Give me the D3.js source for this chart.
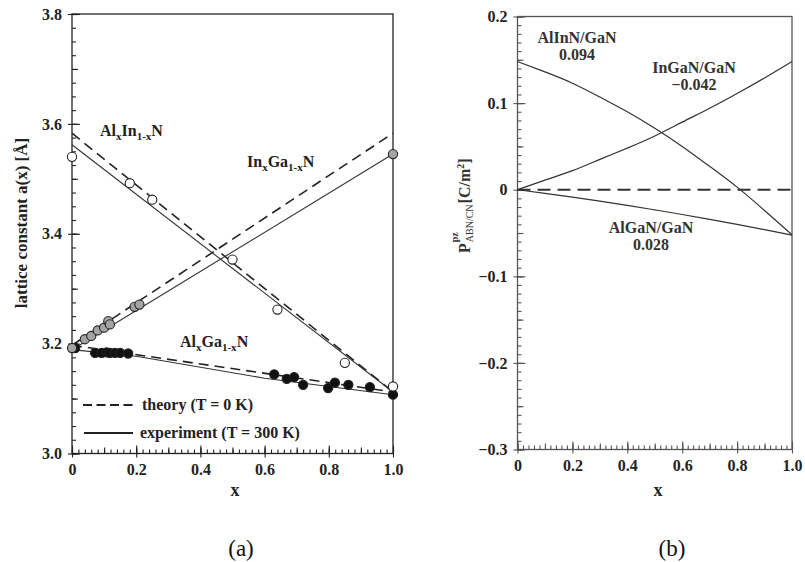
<!DOCTYPE html>
<html>
<head>
<meta charset="utf-8">
<script src="https://cdn.jsdelivr.net/npm/d3@7"></script>
<style>
  body { margin: 0; background: #fff; }
  svg text { font-family: "Liberation Serif", "Times New Roman", serif; }
  .tick text { font-weight: bold; font-size: 16px; fill: #222; }
</style>
</head>
<body>
<div id="chart"></div>
<script>
// ---- panel (a): lattice constants ----
var leftXTicks = [0, 0.2, 0.4, 0.6, 0.8, 1.0];
var leftXLabels = ["0", "0.2", "0.4", "0.6", "0.8", "1.0"];
var leftYTicks = [3.0, 3.2, 3.4, 3.6, 3.8];

// measured points (x, a)
var alInNX = [0, 0.18, 0.25, 0.50, 0.64, 0.85, 1.0];
var alInNA = [3.540, 3.492, 3.462, 3.353, 3.262, 3.165, 3.122];
var inGaNX = [0, 0.04, 0.06, 0.08, 0.10, 0.113, 0.118, 0.195, 0.21, 1.0];
var inGaNA = [3.192, 3.208, 3.214, 3.224, 3.229, 3.241, 3.235, 3.267, 3.271, 3.545];
var alGaNX = [0.01, 0.072, 0.092, 0.108, 0.118, 0.134, 0.150, 0.175, 0.63, 0.669, 0.692, 0.72, 0.798, 0.819, 0.861, 0.928, 1.0];
var alGaNA = [3.192, 3.183, 3.183, 3.184, 3.183, 3.183, 3.183, 3.182, 3.144, 3.136, 3.139, 3.125, 3.119, 3.129, 3.125, 3.121, 3.107];

// theory lines (dashed) and experiment fits (solid)
var theoryAlInN = [[0, 3.583], [1, 3.112]];
var theoryInGaN = [[0, 3.197], [1, 3.583]];
var theoryAlGaN = [[0, 3.197], [1, 3.112]];
var exptAlInN = [[0, 3.562], [1, 3.112]];
var exptInGaN = [[0, 3.189], [1, 3.545]];
var exptAlGaN = [[0, 3.189], [0.2, 3.177], [0.6, 3.137], [1, 3.107]];

// ---- panel (b): piezoelectric polarization ----
var rightXTicks = [0, 0.2, 0.4, 0.6, 0.8, 1.0];
var rightXLabels = ["0", "0.2", "0.4", "0.6", "0.8", "1.0"];
var rightYTicks = [-0.3, -0.2, -0.1, 0, 0.1, 0.2];
var rightYLabels = ["\u22120.3", "\u22120.2", "\u22120.1", "0", "0.1", "0.2"];

var pX = [0, 0.1, 0.2, 0.3, 0.4, 0.5, 0.6, 0.7, 0.8, 0.9, 1.0];
var pAlInN = [0.148, 0.136, 0.123, 0.107, 0.090, 0.071, 0.050, 0.027, 0.003, -0.024, -0.052];
var pInGaN = [0, 0.011, 0.022, 0.035, 0.048, 0.062, 0.078, 0.094, 0.111, 0.129, 0.148];
var pAlGaN = [0, -0.0042, -0.0086, -0.0132, -0.0181, -0.0233, -0.0286, -0.0342, -0.0401, -0.0462, -0.0525];
var pZero = [[0, 0], [1, 0]];

var width = 805, height = 562;
var svg = d3.select("#chart").append("svg")
  .attr("width", width).attr("height", height);

// scales
var xA = d3.scaleLinear().domain([0, 1]).range([72, 393]);
var yA = d3.scaleLinear().domain([3.0, 3.8]).range([453.5, 14]);
var xB = d3.scaleLinear().domain([0, 1]).range([517.5, 792]);
var yB = d3.scaleLinear().domain([-0.3, 0.2]).range([449.5, 16.5]);

function rng(a, b, s) {
  var out = [];
  for (var v = a; v <= b + 1e-9; v += s) out.push(+v.toFixed(4));
  return out;
}

// draw one panel's frame and axes
function drawAxes(x, y, xt, xl, yt, yl, xMinor, xMid, yMinor, yMid, col) {
  var x0 = x.range()[0], x1 = x.range()[1];
  var y0 = y.range()[0], y1 = y.range()[1];
  var g = svg.append("g");

  g.append("rect")
    .attr("x", x0).attr("y", y1)
    .attr("width", x1 - x0).attr("height", y0 - y1)
    .attr("fill", "none").attr("stroke", col).attr("stroke-width", 1.3);

  function ax(axis, tr, vals, size, labels) {
    var a = axis.tickValues(vals).tickSizeOuter(0).tickSizeInner(size);
    if (labels) a.tickFormat(function(d, i) { return labels[i]; }).tickPadding(6);
    else a.tickFormat("");
    var s = g.append("g").attr("transform", tr).call(a);
    s.select(".domain").remove();
    s.selectAll(".tick line").attr("stroke", col).attr("stroke-width", 1.1);
    return s;
  }
  // minor and medium ticks, inward
  ax(d3.axisBottom(x), "translate(0," + y0 + ")", rng(0, 1, xMinor), -4);
  ax(d3.axisBottom(x), "translate(0," + y0 + ")", rng(0, 1, xMid), -6);
  ax(d3.axisLeft(y), "translate(" + x0 + ",0)", rng(y.domain()[0], y.domain()[1], yMinor), -4);
  ax(d3.axisLeft(y), "translate(" + x0 + ",0)", rng(y.domain()[0], y.domain()[1], yMid), -6);
  // major ticks cross the axis
  ax(d3.axisBottom(x), "translate(0," + y0 + ")", xt, -8);
  ax(d3.axisLeft(y), "translate(" + x0 + ",0)", yt, -8);
  ax(d3.axisBottom(x), "translate(0," + y0 + ")", xt, 4, xl);
  ax(d3.axisLeft(y), "translate(" + x0 + ",0)", yt, 4, yl);
}

drawAxes(xA, yA, leftXTicks, leftXLabels, leftYTicks,
  leftYTicks.map(function(d) { return d.toFixed(1); }), 0.02, 0.1, 0.025, 0.1, "#222");
drawAxes(xB, yB, rightXTicks, rightXLabels, rightYTicks, rightYLabels,
  0.02, 0.1, 0.01, 0.05, "#555");

// ---- panel (a) lines ----
var lineA = d3.line().x(function(d) { return xA(d[0]); }).y(function(d) { return yA(d[1]); });
var gA = svg.append("g");
[theoryAlInN, theoryInGaN, theoryAlGaN].forEach(function(l) {
  gA.append("path").attr("d", lineA(l)).attr("fill", "none")
    .attr("stroke", "#222").attr("stroke-width", 1.6).attr("stroke-dasharray", "10,6");
});
[exptAlInN, exptInGaN, exptAlGaN].forEach(function(l) {
  gA.append("path").attr("d", lineA(l)).attr("fill", "none")
    .attr("stroke", "#333").attr("stroke-width", 1.1);
});

function dots(xs, as, fill) {
  gA.selectAll(null).data(xs).enter().append("circle")
    .attr("cx", function(d) { return xA(d); })
    .attr("cy", function(d, i) { return yA(as[i]); })
    .attr("r", 4.6)
    .attr("fill", fill).attr("stroke", "#222").attr("stroke-width", 1.1);
}
dots(alGaNX, alGaNA, "#111");
dots(inGaNX, inGaNA, "#a4a4a4");
dots(alInNX, alInNA, "#fff");

// compound labels with subscripts
function compound(x, y, parts) {
  var t = svg.append("text").attr("x", x).attr("y", y)
    .attr("font-weight", "bold").attr("font-size", 16).attr("fill", "#222");
  var shift = 0;
  parts.forEach(function(p) {
    var s = t.append("tspan");
    if (p.sub) {
      s.attr("dy", 4 - shift).attr("font-size", 11).text(p.sub);
      shift = 4;
    } else {
      s.attr("dy", -shift).text(p.t);
      shift = 0;
    }
  });
}
compound(100, 136, [{t: "Al"}, {sub: "x"}, {t: "In"}, {sub: "1-x"}, {t: "N"}]);
compound(247, 167, [{t: "In"}, {sub: "x"}, {t: "Ga"}, {sub: "1-x"}, {t: "N"}]);
compound(180, 347, [{t: "Al"}, {sub: "x"}, {t: "Ga"}, {sub: "1-x"}, {t: "N"}]);

// legend
gA.append("line").attr("x1", 83).attr("x2", 133).attr("y1", 405).attr("y2", 405)
  .attr("stroke", "#222").attr("stroke-width", 1.8).attr("stroke-dasharray", "9,4.5");
gA.append("line").attr("x1", 84).attr("x2", 133).attr("y1", 433).attr("y2", 433)
  .attr("stroke", "#222").attr("stroke-width", 2);
gA.append("text").attr("x", 142).attr("y", 410).attr("font-weight", "bold")
  .attr("font-size", 16).attr("fill", "#222").text("theory (T = 0 K)");
gA.append("text").attr("x", 140).attr("y", 438).attr("font-weight", "bold")
  .attr("font-size", 16).attr("fill", "#222").text("experiment (T = 300 K)");

// axis titles (a)
svg.append("text").attr("transform", "translate(27,223) rotate(-90)")
  .attr("text-anchor", "middle").attr("font-weight", "bold").attr("font-size", 17)
  .attr("fill", "#222").text("lattice constant  a(x) [\u00c5]");
svg.append("text").attr("x", 235).attr("y", 496).attr("text-anchor", "middle")
  .attr("font-weight", "bold").attr("font-size", 18).attr("fill", "#222").text("x");

// ---- panel (b) curves ----
var lineB = d3.line().x(function(d) { return xB(d[0]); }).y(function(d) { return yB(d[1]); })
  .curve(d3.curveNatural);
var gB = svg.append("g");
gB.append("path").attr("d", d3.line().x(function(d) { return xB(d[0]); })
    .y(function(d) { return yB(d[1]); })(pZero))
  .attr("fill", "none").attr("stroke", "#333").attr("stroke-width", 2)
  .attr("stroke-dasharray", "13,7");
[pAlInN, pInGaN, pAlGaN].forEach(function(s) {
  gB.append("path").attr("d", lineB(pX.map(function(x, i) { return [x, s[i]]; })))
    .attr("fill", "none").attr("stroke", "#333").attr("stroke-width", 1.2);
});

function label2(x, y, a, b) {
  var t = svg.append("text").attr("text-anchor", "middle").attr("font-weight", "bold")
    .attr("font-size", 16).attr("fill", "#333");
  t.append("tspan").attr("x", x).attr("y", y).text(a);
  t.append("tspan").attr("x", x).attr("y", y + 17).text(b);
}
label2(577, 43, "AlInN/GaN", "0.094");
label2(694, 73, "InGaN/GaN", "\u22120.042");
label2(651, 233, "AlGaN/GaN", "0.028");

// y title (b): P with stacked super/subscript
var pt = svg.append("g").attr("transform", "translate(470,253) rotate(-90)");
var pMain = pt.append("text").attr("x", 0).attr("y", 0).attr("font-weight", "bold")
  .attr("font-size", 16).attr("fill", "#333").text("P");
var pw = pMain.node().getComputedTextLength();
pt.append("text").attr("x", pw + 1).attr("y", -12).attr("font-weight", "bold")
  .attr("font-size", 10).attr("fill", "#333").text("pz");
var sub = pt.append("text").attr("x", pw + 1).attr("y", 3).attr("font-size", 10)
  .attr("fill", "#333").text("ABN/CN");
var sw = sub.node().getComputedTextLength();
var un = pt.append("text").attr("x", pw + sw + 2).attr("y", 0).attr("font-weight", "bold")
  .attr("font-size", 16).attr("fill", "#333");
un.append("tspan").text("[C/m");
un.append("tspan").attr("dy", -6).attr("font-size", 10).text("2");
un.append("tspan").attr("dy", 6).text("]");

svg.append("text").attr("x", 658).attr("y", 496).attr("text-anchor", "middle")
  .attr("font-weight", "bold").attr("font-size", 18).attr("fill", "#222").text("x");

// panel captions
svg.append("text").attr("x", 241).attr("y", 556).attr("text-anchor", "middle")
  .attr("font-size", 23).attr("fill", "#111").text("(a)");
svg.append("text").attr("x", 672).attr("y", 556).attr("text-anchor", "middle")
  .attr("font-size", 23).attr("fill", "#111").text("(b)");
</script>
</body>
</html>
